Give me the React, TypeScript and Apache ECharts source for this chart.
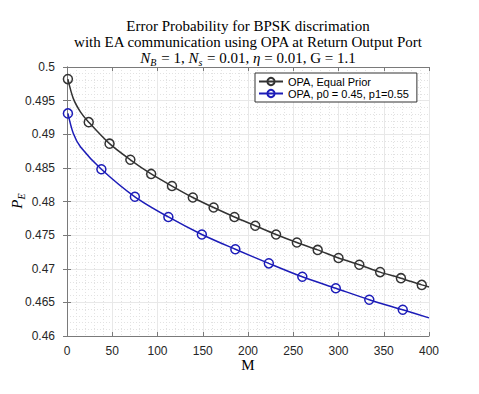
import React, { useEffect, useRef } from "react";
import * as echarts from "echarts";

const xTicks = [0, 50, 100, 150, 200, 250, 300, 350, 400];
const yTicks = [0.46, 0.465, 0.47, 0.475, 0.48, 0.485, 0.49, 0.495, 0.5];

const equalM = [1, 7, 15, 24, 47, 70, 93, 116, 139, 162, 185, 208, 231, 254, 277, 300, 323, 346, 369, 392, 400];
const equalPE = [0.4982, 0.4953, 0.4933, 0.4918, 0.4886, 0.4862, 0.4841, 0.4823, 0.4806, 0.4791, 0.4777, 0.4764, 0.4751, 0.4739, 0.4728, 0.4716, 0.4706, 0.4695, 0.4686, 0.4676, 0.4673];
const equalMarkerM = [1, 24, 47, 70, 93, 116, 139, 162, 185, 208, 231, 254, 277, 300, 323, 346, 369, 392];

const priorM = [1, 7, 15, 38, 75, 112, 149, 186, 223, 260, 297, 334, 371, 400];
const priorPE = [0.4931, 0.4901, 0.4881, 0.4848, 0.4807, 0.4777, 0.4751, 0.4729, 0.4708, 0.4688, 0.4671, 0.4654, 0.4639, 0.4627];
const priorMarkerM = [1, 38, 75, 112, 149, 186, 223, 260, 297, 334, 371];

const seriesNames = ["OPA, Equal Prior", "OPA, p0 = 0.45, p1=0.55"];
const titleLines = [
  "Error Probability for BPSK discrimation",
  "with EA communication using OPA at Return Output Port",
];

const SERIF = "'Liberation Serif', 'DejaVu Serif', serif";
const SANS = "'Liberation Sans', Arial, sans-serif";

function buildData(ms: number[], ps: number[], markers: number[]) {
  return ms.map((m, i) =>
    markers.includes(m)
      ? { value: [m, ps[i]] }
      : { value: [m, ps[i]], symbol: "none" }
  );
}

export default function App() {
  const ref = useRef<HTMLDivElement>(null);
  useEffect(() => {
    if (!ref.current) return;
    const chart = echarts.init(ref.current, null, { renderer: "svg" });
    const axisColor = "#7a7a7a";
    const gridLeft = 67;
    const gridRight = 50;
    const gridTop = 67;
    const gridBottom = 58;
    const cx = (gridLeft + (479 - gridRight)) / 2;
    const baseX = {
      type: "value" as const,
      min: 0,
      max: 400,
      interval: 50,
      axisLine: { show: true, lineStyle: { color: axisColor, width: 1 } },
    };
    const baseY = {
      type: "value" as const,
      min: 0.46,
      max: 0.5,
      interval: 0.005,
      axisLine: { show: true, lineStyle: { color: axisColor, width: 1 } },
    };
    const lineSeries = (name: string, data: any[], color: string) => ({
      name,
      type: "line",
      xAxisIndex: 0,
      yAxisIndex: 0,
      data,
      smooth: 0.3,
      symbol: "circle",
      symbolSize: 9,
      showAllSymbol: true,
      color,
      lineStyle: { color, width: 1.5 },
      itemStyle: { color: "transparent", borderColor: color, borderWidth: 1.5 },
      z: 3,
    });
    chart.setOption({
      animation: false,
      backgroundColor: "#ffffff",
      grid: { left: gridLeft, right: gridRight, top: gridTop, bottom: gridBottom, containLabel: false },
      xAxis: [
        {
          ...baseX,
          position: "bottom",
          axisTick: { show: true, inside: true, length: 4, lineStyle: { color: axisColor } },
          axisLabel: {
            color: "#262626",
            fontFamily: SANS,
            fontSize: 12,
            margin: 9,
            formatter: (v: number) => (xTicks.includes(v) ? String(v) : ""),
          },
          splitLine: { show: true, lineStyle: { color: "#e8e8e8", width: 1 } },
          minorTick: { show: false, splitNumber: 5 },
          minorSplitLine: { show: true, lineStyle: { color: "#e2e2e2", width: 1, type: [1, 2] } },
        },
        {
          ...baseX,
          position: "top",
          axisTick: { show: true, inside: true, length: 4, lineStyle: { color: axisColor } },
          axisLabel: { show: false },
          splitLine: { show: false },
        },
      ],
      yAxis: [
        {
          ...baseY,
          position: "left",
          axisTick: { show: true, inside: true, length: 4, lineStyle: { color: axisColor } },
          axisLabel: {
            color: "#262626",
            fontFamily: SANS,
            fontSize: 12,
            margin: 12,
            formatter: (v: number) => String(parseFloat(v.toFixed(3))),
          },
          splitLine: { show: true, lineStyle: { color: "#e8e8e8", width: 1 } },
          minorTick: { show: false, splitNumber: 5 },
          minorSplitLine: { show: true, lineStyle: { color: "#e2e2e2", width: 1, type: [1, 2] } },
        },
        {
          ...baseY,
          position: "right",
          axisTick: { show: true, inside: true, length: 4, lineStyle: { color: axisColor } },
          axisLabel: { show: false },
          splitLine: { show: false },
        },
      ],
      legend: {
        left: 255,
        top: 73,
        orient: "vertical",
        backgroundColor: "#ffffff",
        borderColor: "#333333",
        borderWidth: 1,
        borderRadius: 0,
        padding: [3, 8, 3, 3],
        itemGap: 1,
        itemWidth: 24,
        itemHeight: 9,
        textStyle: { fontFamily: SANS, fontSize: 11, color: "#000", lineHeight: 11 },
        data: seriesNames,
      },
      series: [
        lineSeries(seriesNames[0], buildData(equalM, equalPE, equalMarkerM), "#333333"),
        lineSeries(seriesNames[1], buildData(priorM, priorPE, priorMarkerM), "#1c1cb8"),
      ],
      graphic: [
        {
          type: "text",
          x: cx,
          y: 26,
          style: {
            text: titleLines[0],
            fontFamily: SERIF,
            fontSize: 15,
            fill: "#000",
            textAlign: "center",
            textVerticalAlign: "middle",
          },
        },
        {
          type: "text",
          x: cx,
          y: 42,
          style: {
            text: titleLines[1],
            fontFamily: SERIF,
            fontSize: 15,
            fill: "#000",
            textAlign: "center",
            textVerticalAlign: "middle",
          },
        },
        {
          type: "text",
          x: cx,
          y: 58,
          style: {
            text: "{i|N}{sub|B} = 1, {i|N}{sub|s} = 0.01, {i|η} = 0.01, G = 1.1",
            fontFamily: SERIF,
            fontSize: 15,
            fill: "#000",
            textAlign: "center",
            textVerticalAlign: "middle",
            rich: {
              i: { fontFamily: SERIF, fontSize: 15, fontStyle: "italic", fill: "#000" },
              sub: { fontFamily: SERIF, fontSize: 10, fontStyle: "italic", fill: "#000", padding: [8, 1, 0, 0] },
            },
          },
        },
        {
          type: "text",
          x: 17,
          y: 201,
          rotation: Math.PI / 2,
          style: {
            text: "{i|P}{sub|E}",
            fontFamily: SERIF,
            fontSize: 15,
            fill: "#000",
            textAlign: "center",
            textVerticalAlign: "middle",
            rich: {
              i: { fontFamily: SERIF, fontSize: 15, fontStyle: "italic", fill: "#000" },
              sub: { fontFamily: SERIF, fontSize: 10, fontStyle: "italic", fill: "#000", padding: [8, 0, 0, 0] },
            },
          },
        },
        {
          type: "text",
          x: cx,
          y: 365,
          style: {
            text: "M",
            fontFamily: SERIF,
            fontSize: 15,
            fill: "#000",
            textAlign: "center",
            textVerticalAlign: "middle",
          },
        },
      ],
    });
    return () => chart.dispose();
  }, []);
  return <div ref={ref} style={{ width: 479, height: 394, position: "absolute", left: 0, top: 0 }} />;
}
